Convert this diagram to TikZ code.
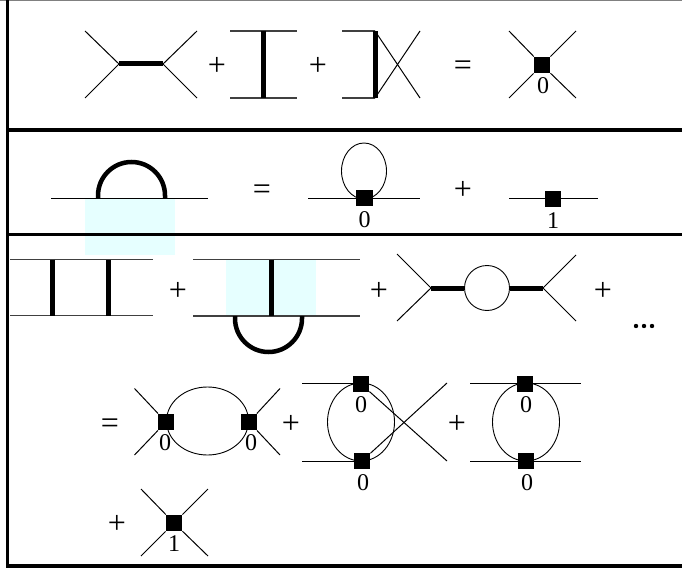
\documentclass[tikz,border=0pt]{standalone}
\usepackage{fontspec}
\setmainfont{Liberation Serif}
\usetikzlibrary{shapes.geometric,backgrounds}
\definecolor{paleshade}{HTML}{E6FFFF}
\tikzset{
  prop/.style={line width=1pt,black},
  ext/.style={line width=1.1pt,black!75},
  heavy/.style={line width=5pt,black},
  archeavy/.style={line width=4.5pt,black},
  frameline/.style={line width=3.4pt,black},
  vertex/.style={draw=none,fill=black,minimum size=16.5pt,inner sep=0pt,rectangle},
  loopshape/.style={draw=black,line width=.9pt,ellipse,inner sep=0pt},
  lbl/.style={inner sep=0pt,font=\fontsize{24}{24}\selectfont},
  op/.style={inner sep=0pt,text height=21.4pt,text depth=0pt,font=\fontsize{32}{32}\selectfont},
  shade/.style={fill=paleshade,draw=none},
}
\begin{document}
\begin{tikzpicture}[x=1pt,y=-1pt]
\useasboundingbox (0,0) rectangle (682,569);
\draw[line width=1pt,black!50] (0,.5) -- (682,.5);
\draw[frameline] (7.5,0) -- (7.5,567.5);
\draw[frameline] (6,130) -- (682,130);
\draw[frameline] (6,234.5) -- (682,234.5);
\draw[frameline] (6,566) -- (682,566);
% ---- vertices
\node[vertex] (va) at (542,65) {};
\node[vertex] (vb) at (364.5,198) {};
\node[vertex] (vc) at (553,199) {};
\node[vertex] (vd) at (166,422) {};
\node[vertex] (ve) at (249,422) {};
\node[vertex] (vf) at (361,384) {};
\node[vertex] (vg) at (362,461) {};
\node[vertex] (vh) at (525,384) {};
\node[vertex] (vi) at (526,461) {};
\node[vertex] (vj) at (174,523) {};
% ---- labels
\node[lbl] at (543,86) {0};
\node[lbl] at (364.5,220) {0};
\node[lbl] at (553,221) {1};
\node[lbl] at (165,443) {0};
\node[lbl] at (251,443) {0};
\node[lbl] at (361,405) {0};
\node[lbl] at (363,483) {0};
\node[lbl] at (526,405) {0};
\node[lbl] at (527,483) {0};
\node[lbl] at (174,544) {1};
\node[op] at (217,65) {+};
\node[op] at (318,65) {+};
\node[op] at (463,65) {=};
\node[op] at (262,189) {=};
\node[op] at (463,189) {+};
\node[op] at (178,290) {+};
\node[op] at (379,290) {+};
\node[op] at (603,290) {+};
\node[op] at (110,423) {=};
\node[op] at (291,423) {+};
\node[op] at (457,423) {+};
\node[op] at (117,523) {+};
\foreach \x/\n in {636/a,644/b,652/c}{\fill[black] (\x,326) circle (2.2pt);}
% ---- coordinates
\coordinate (s1) at (119,64); \coordinate (s2) at (163,64);
\coordinate (t1) at (263.5,31); \coordinate (t2) at (263.5,98);
\coordinate (u1) at (375,31); \coordinate (u2) at (375,98);
\coordinate (r1) at (98,198.5); \coordinate (r2) at (165,198.5);
\coordinate (l1) at (52.5,259.5); \coordinate (l2) at (52.5,315.5);
\coordinate (l3) at (108,259.5); \coordinate (l4) at (108,315.5);
\coordinate (m1) at (271,259.5); \coordinate (m2) at (271,316);
\coordinate (m3) at (235,316); \coordinate (m4) at (302,316);
\coordinate (c1) at (431,288); \coordinate (c2) at (543,288);
\coordinate (hb1) at (308,198.5); \coordinate (hb2) at (420,198.5);
\coordinate (hc1) at (509,198.5); \coordinate (hc2) at (598,198.5);
\coordinate (hf1) at (302,383.5); \coordinate (hg1) at (302,461.5);
\coordinate (hh1) at (470,383.5); \coordinate (hh2) at (581,383.5);
\coordinate (hi1) at (470,461.5); \coordinate (hi2) at (581,461.5);
\node[loopshape,minimum width=45pt,minimum height=56pt] (lp1) at (364,171) {};
\node[loopshape,minimum width=45pt,minimum height=45pt] (lp2) at (487,288) {};
\begin{scope}[on background layer]
\fill[shade] (85,198) rectangle (175,255);
\fill[shade] (226,260) rectangle (316,315);
\draw[prop] (85,31) -- (s1) -- (85,98);
\draw[prop] (197,31) -- (s2) -- (197,98);
\draw[heavy] (s1) -- (s2);
\draw[ext] (230,31) -- (297,31);
\draw[ext] (230,98) -- (297,98);
\draw[heavy] (t1) -- (t2);
\draw[ext] (342,31) -- (u1);
\draw[ext] (342,98) -- (u2);
\draw[heavy] (u1) -- (u2);
\draw[prop] (u1) -- (420,98);
\draw[prop] (u2) -- (420,31);
\draw[prop] (509,31) -- (va);
\draw[prop] (509,98) -- (va);
\draw[prop] (576,31) -- (va);
\draw[prop] (576,98) -- (va);
\draw[prop] (51,198.5) -- (208,198.5);
\draw[archeavy] (r1) -- (98,195.5) arc[start angle=180,end angle=360,radius=33.5] -- (r2);
\draw[prop] (hb1) -- (vb.center |- hb1) -- (hb2);
\draw[prop] (hc1) -- (vc.center |- hc1) -- (hc2);
\draw[ext] (10,259.5) -- (153,259.5);
\draw[ext] (10,315.5) -- (153,315.5);
\draw[heavy] (l1) -- (l2);
\draw[heavy] (l3) -- (l4);
\draw[ext] (193,259.5) -- (360,259.5);
\draw[ext] (193,316) -- (360,316);
\draw[heavy] (m1) -- (m2);
\draw[archeavy] (m3) -- (235,318.5) arc[start angle=180,end angle=0,radius=33.5] -- (m4);
\draw[prop] (397,254) -- (c1) -- (397,321);
\draw[prop] (576,255) -- (c2) -- (576,321);
\draw[heavy] (c1) -- (lp2);
\draw[heavy] (lp2) -- (c2);
\draw[prop] (134.5,388.5) -- (vd);
\draw[prop] (134.5,455) -- (vd);
\draw[prop] (280,388.5) -- (ve);
\draw[prop] (280,455) -- (ve);
\draw[line width=.9pt] (207.5,421) ellipse[x radius=41,y radius=34];
\draw[prop] (hf1) -- (vf.center |- hf1);
\draw[prop] (vf) -- (447,461);
\draw[prop] (hg1) -- (vg.center |- hg1);
\draw[prop] (vg) -- (447,383);
\draw[line width=.9pt] (361,422) ellipse[x radius=33.5,y radius=39];
\draw[prop] (hh1) -- (hh2);
\draw[prop] (hi1) -- (hi2);
\draw[line width=.9pt] (526,422) ellipse[x radius=33.5,y radius=39];
\draw[prop] (141,489) -- (vj);
\draw[prop] (141,556) -- (vj);
\draw[prop] (208,489) -- (vj);
\draw[prop] (208,556) -- (vj);
\end{scope}
\end{tikzpicture}
\end{document}
